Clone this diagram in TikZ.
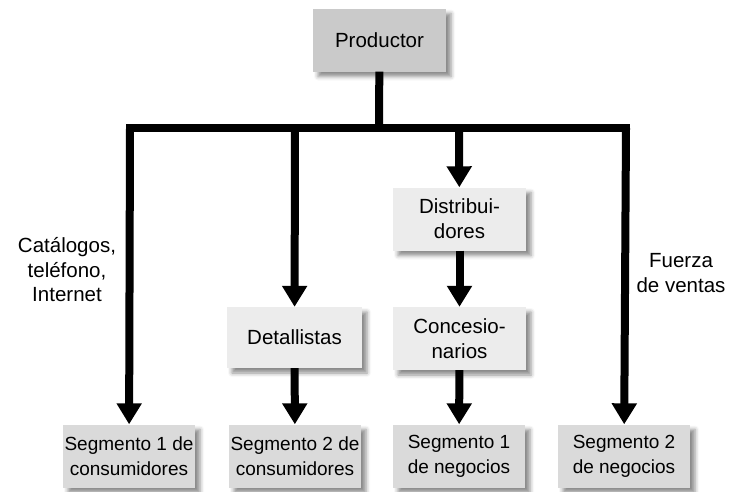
\documentclass[tikz,border=0pt]{standalone}
\usepackage{fontspec}
\setmainfont{Liberation Sans}
\usepackage{tikz}
\usetikzlibrary{arrows.meta,shadows.blur}
\definecolor{chtop}{RGB}{202,202,202}
\definecolor{chmid}{RGB}{236,236,236}
\definecolor{chend}{RGB}{218,218,218}
\tikzset{
  chbox/.style={
    draw=none, align=center, inner sep=0pt, font=\fontsize{20.5}{25}\selectfont,
    minimum width=133pt, minimum height=63pt,
    blur shadow={shadow xshift=5pt, shadow yshift=-5pt, shadow blur radius=4pt, shadow opacity=45}
  },
  top/.style={chbox, fill=chtop},
  mid/.style={chbox, fill=chmid},
  seg/.style={chbox, fill=chend, minimum width=132pt, font=\fontsize{19}{25}\selectfont},
  lbl/.style={align=center, font=\fontsize{20.5}{24.5}\selectfont},
  bar/.style={draw=black, line width=8pt},
  arr/.style={bar, -{Triangle[length=21pt,width=24pt]}}
}
\begin{document}
\begin{tikzpicture}[x=1pt,y=-1pt]
  \useasboundingbox (0,0) rectangle (735,491);
  \node[top] (prod) at (379.5,40) {Productor};
  \node[mid] (dist) at (459.5,219) {Distribui-\\dores};
  \node[mid] (conc) at (459.5,338.5) {Concesio-\\narios};
  \node[mid, minimum width=135pt, minimum height=61pt] (detal) at (294.5,337.5) {Detallistas};
  \node[seg] (seg1c) at (129,456) {Segmento 1 de\\consumidores};
  \node[seg] (seg2c) at (295,456) {Segmento 2 de\\consumidores};
  \node[seg] (seg1n) at (459,456) {Segmento 1\\de negocios};
  \node[seg] (seg2n) at (624,456) {Segmento 2\\de negocios};
  \node[lbl] (cat) at (67,270) {Catálogos,\\teléfono,\\Internet};
  \node[lbl] (fuerza) at (681,273) {Fuerza\\de ventas};
  % reparto
  \coordinate (bus) at (379,128);
  \coordinate (b1) at (130,128);
  \coordinate (b2) at (295,128);
  \coordinate (b3) at (459,128);
  \coordinate (b4) at (626,128);
  \draw[bar] (prod) -- (bus);
  \draw[bar] ([xshift=-4pt]b1) -- ([xshift=4pt]b4);
  \draw[arr] (b1) -- (seg1c);
  \draw[arr] (b2) -- (detal);
  \draw[arr] (b3) -- (dist);
  \draw[arr] (b4) -- (seg2n);
  \draw[arr] (dist) -- (conc);
  \draw[arr] (detal) -- (seg2c);
  \draw[arr] (conc) -- (seg1n);
\end{tikzpicture}
\end{document}
